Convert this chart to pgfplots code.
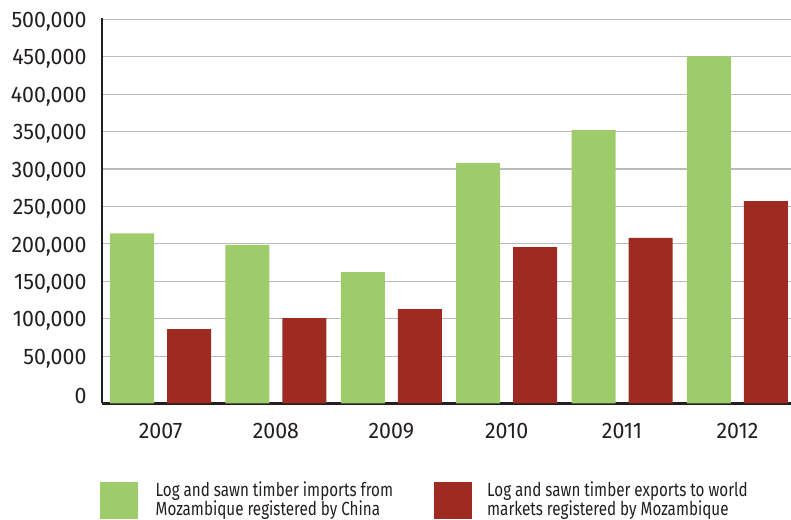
\documentclass[border=0pt]{standalone}
\usepackage{fontspec}
\setmainfont{Fira Sans}[FakeStretch=0.95]
\newfontfamily\legfont{Fira Sans}[FakeStretch=0.8]
\usepackage{pgfplots}
\pgfplotsset{compat=1.18}
\usetikzlibrary{calc}
\definecolor{impgreen}{HTML}{9FCC6B}
\definecolor{expred}{HTML}{9E2A22}
\definecolor{gridgray}{HTML}{BBBBBB}
\definecolor{ink}{HTML}{231F20}

\begin{document}
\begin{tikzpicture}[x=1pt,y=1pt]
\begin{axis}[
    name=ax,
    scale only axis, width=689pt, height=384.8pt,
    xmin=-0.507, xmax=5.464,
    ymin=0, ymax=514000,
    enlargelimits=false,
    xtick={0,1,2,3,4,5},
    xticklabels={2007,2008,2009,2010,2011,2012},
    % the zero line sits a little above the x axis, as in the original
    ytick={63000,113000,163000,213000,263000,313000,363000,413000,463000,513000},
    yticklabels={{50,000},{100,000},{150,000},{200,000},{250,000},{300,000},{350,000},{400,000},{450,000},{500,000}},
    extra y ticks={13000},
    extra y tick labels={0},
    extra y tick style={grid=none},
    major tick length=0pt,
    ymajorgrids,
    grid style={gridgray, line width=1.2pt},
    axis x line*=bottom, axis y line*=left,
    axis line style={ink, line width=2.6pt, -},
    tick label style={font=\fontsize{22.5}{22.5}\selectfont, text=ink},
    yticklabel style={xshift=-12pt, yshift=-2.5pt},
    xticklabel style={yshift=-16pt},
    scaled y ticks=false,
]
% timber imports from Mozambique registered by China (m3)
\addplot[ybar, bar width=44pt, bar shift=-28.5pt, fill=impgreen, draw=none,
    y filter/.expression={y+13000}]
    coordinates {(0,214000) (1,198500) (2,162300) (3,308000) (4,352000) (5,450500)};
% timber exports registered by Mozambique
\addplot[ybar, bar width=44pt, bar shift=28.5pt, fill=expred, draw=none,
    y filter/.expression={y+13000}]
    coordinates {(0,86100) (1,100800) (2,112800) (3,195700) (4,207800) (5,257000)};
\end{axis}

% everything below is placed from the lower left corner of the page
\coordinate (o) at ($(ax.south west)+(-102,-115.7)$);

% legend
\fill[impgreen] ($(o)+(100,0)$) rectangle ($(o)+(138,37)$);
\fill[expred] ($(o)+(434,0)$) rectangle ($(o)+(472,37)$);
\begin{scope}[every node/.style={anchor=base west, inner sep=0pt, text=ink,
    font=\legfont\fontsize{19}{19}\selectfont}]
\node at ($(o)+(155.5,23)$) {Log and sawn timber imports from};
\node at ($(o)+(155.5,4)$) {Mozambique registered by China};
\node at ($(o)+(487,23)$) {Log and sawn timber exports to world};
\node at ($(o)+(487,4)$) {markets registered by Mozambique};
\end{scope}

\pgfresetboundingbox
\path[use as bounding box] (o) rectangle ($(o)+(791,519)$);
\end{tikzpicture}
\end{document}
